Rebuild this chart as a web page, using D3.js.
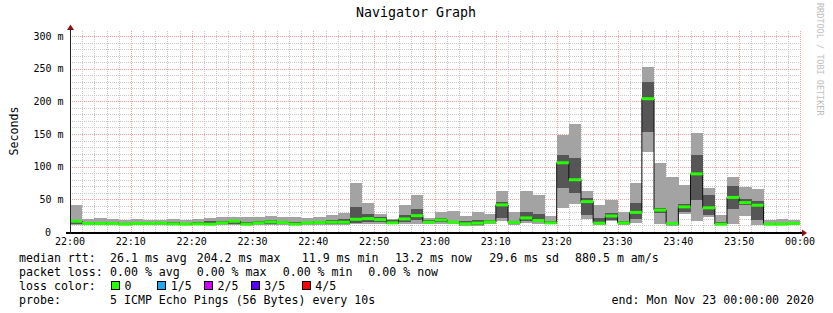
<!DOCTYPE html>
<html><head><meta charset="utf-8">
<script src="https://cdn.jsdelivr.net/npm/d3@7"></script>
<style>
html,body{margin:0;padding:0;background:#fff;}
svg{display:block;}
text{font-family:"DejaVu Sans Mono",monospace;}
</style></head><body>
<svg id="c" width="833" height="313"></svg>
<script>
// ---- data (milliseconds), one 2-minute bin each, 22:00 .. 23:58 ----
const minMs = [11,10,10.5,10.5,10,10.5,10.5,10.5,10.5,10, 10,10.5,10.5,11,10.5,10.5,11,11,10.5,10.5,
  10.5,11,10.5,12.5,12.5,13,11.5,12,12.5,12.5, 13,12,9.5,9.5,12.5,17,10.5,14,12.5,11.5,
  37,43,20.5,10,17,10,14.5,123,11.5,9.5, 28,17,23.5,10,12,24.5,10,10,10,10];
const p2Ms = [12.5,11.5,12,12,11,12,12,11.5,12,11, 11.5,11.5,12,13,11.5,12,13,12.5,11.5,12,
  12,12.5,13,14.5,16,15.5,12.5,15,19,13.5, 15,13.5,11,11,14,22,12.5,17,15,12.5,
  68,60,26.5,12,19,12,19.5,153.5,28.5,11, 30.5,49,26,11,35.5,41,18.5,11,11,11];
const medianMs = [16.5,13,13,13,12,13,13,13.5,12.5,12, 12.5,12,14,16.5,12,14,15.5,14.5,12,14,
  14.5,15,15,19.5,20.5,19,14,20,25,15, 18.5,15,12.5,13.5,15.5,41.5,14.5,21.5,17.5,14,
  106,80,46.5,13.5,24.5,14,30,204,33.5,13, 38.5,89,37,12,53,45,41,12,12,13];
const p4Ms = [19,15,15.5,15,13.5,15,14.5,15,15,14, 16,16.5,16.5,17.5,15.5,17,18.5,17,15,16,
  16.5,18,20,38.5,27.5,23,18,26,35,18, 21,17.5,16.5,18.5,18.5,46.5,17,31,28,17,
  118.5,114,52,22,29.5,17,44.5,229.5,36,16, 42.5,118,56.5,15,70.5,50.5,47.5,13.5,14,14.5];
const maxMs = [41,20,21,20,18,20,18,18.5,20,18, 20,21.5,23.5,23,23,23.5,25,23.5,23,21,
  23.5,25.5,29.5,75.5,45,27.5,20.5,41,56.5,21.5, 30.5,32,24.5,30.5,27.5,63,30.5,63,57,25,
  149,166,63,42,49,30.5,75.5,253,106,84.5, 72.5,152,68,26,84.5,69.5,66.5,18.5,20,18.5];

const xTickLabels = ["22:00","22:10","22:20","22:30","22:40","22:50","23:00","23:10","23:20","23:30","23:40","23:50","00:00"];
const yTickValues = [0,50,100,150,200,250,300];
const lossLabels = ["0","1/5","2/5","3/5","4/5"];
const lossColors = ["#26ff00","#1ea8f0","#d400ff","#5a00ff","#ff0000"];
const statLine1 = ["median rtt:","26.1 ms avg","204.2 ms max","11.9 ms min","13.2 ms now","29.6 ms sd","880.5 m am/s"];
const statLine2 = ["packet loss:","0.00 % avg","0.00 % max","0.00 % min","0.00 % now"];
const probeText = ["probe:","5 ICMP Echo Pings (56 Bytes) every 10s"];
const endText = "end: Mon Nov 23 00:00:00 2020";

// ---- layout ----
const t0 = new Date(2020,10,22,22,0), t1 = new Date(2020,10,23,0,0);
const binStarts = d3.timeMinute.every(2).range(t0, t1);
const x = d3.scaleTime().domain([t0,t1]).range([70,800]);
const y = d3.scaleLinear().domain([0,300]).range([232,36]);
const plotTop = 31;
const svg = d3.select("#c");
svg.append("rect").attr("width",833).attr("height",313).attr("fill","#fff");

const grid = svg.append("g").attr("shape-rendering","crispEdges");
// minor horizontal
grid.selectAll("line.hm").data(d3.range(10,301,10).filter(v=>v%50!==0)).join("line")
  .attr("x1",70).attr("x2",800).attr("y1",d=>Math.round(y(d))+0.5).attr("y2",d=>Math.round(y(d))+0.5)
  .attr("stroke","#c8c8c8").attr("stroke-dasharray","1,1");
// minor vertical
const minorT = d3.timeMinute.every(2).range(t0, new Date(+t1+1)).filter(d=>d.getMinutes()%10!==0);
grid.selectAll("line.vm").data(minorT).join("line")
  .attr("x1",d=>Math.round(x(d))+0.5).attr("x2",d=>Math.round(x(d))+0.5).attr("y1",plotTop).attr("y2",232)
  .attr("stroke","#c8c8c8").attr("stroke-dasharray","1,1");
// major
const majorT = d3.timeMinute.every(10).range(t0, new Date(+t1+1));
grid.selectAll("line.vM").data(majorT.slice(1)).join("line")
  .attr("x1",d=>Math.round(x(d))+0.5).attr("x2",d=>Math.round(x(d))+0.5).attr("y1",plotTop).attr("y2",232)
  .attr("stroke","#f2a0a0").attr("stroke-dasharray","1,1");
grid.selectAll("line.hM").data(yTickValues.slice(1)).join("line")
  .attr("x1",70).attr("x2",800).attr("y1",d=>Math.round(y(d))+0.5).attr("y2",d=>Math.round(y(d))+0.5)
  .attr("stroke","#f2a0a0").attr("stroke-dasharray","1,1");

// ---- smoke ----
const bw = d => x(d3.timeMinute.offset(d,2)) - x(d);
const smoke = svg.append("g").attr("shape-rendering","crispEdges");
function layer(lo, hi, color){
  smoke.selectAll(null).data(binStarts).join("rect")
    .attr("x",d=>x(d)).attr("width",d=>bw(d)+0.3)
    .attr("y",(d,i)=>y(hi[i])).attr("height",(d,i)=>Math.max(0,y(lo[i])-y(hi[i])))
    .attr("fill",color);
}
layer(minMs, p2Ms, "#a3a3a3");
layer(p4Ms, maxMs, "#a3a3a3");
layer(p2Ms, p4Ms, "#565656");

// median step line (dark) + green loss-coloured segments
const stepPts = binStarts.map((d,i)=>[x(d), y(medianMs[i])]);
stepPts.push([x(t1), y(medianMs[medianMs.length-1])]);
svg.append("path").attr("d", d3.line().curve(d3.curveStepAfter)(stepPts))
  .attr("fill","none").attr("stroke","#111").attr("stroke-width",1);
svg.append("g").selectAll("line").data(binStarts).join("line")
  .attr("x1",d=>x(d)).attr("x2",d=>x(d3.timeMinute.offset(d,2)))
  .attr("y1",(d,i)=>y(medianMs[i])).attr("y2",(d,i)=>y(medianMs[i]))
  .attr("stroke",lossColors[0]).attr("stroke-width",3);

// ---- axes ----
svg.append("line").attr("x1",66).attr("x2",803).attr("y1",233).attr("y2",233)
  .attr("stroke","#000").attr("stroke-width",2).attr("shape-rendering","crispEdges");
svg.append("line").attr("x1",70.5).attr("x2",70.5).attr("y1",234).attr("y2",29)
  .attr("stroke","#222").attr("stroke-width",1).attr("shape-rendering","crispEdges");
svg.append("path").attr("d","M802,229.5L807,233L802,236.5Z").attr("fill","#8b1010");
svg.append("path").attr("d","M67,30L70.5,24.5L74,30Z").attr("fill","#8b1010");

svg.append("g").selectAll("text").data(majorT).join("text")
  .attr("x",d=>x(d)).attr("y",245).attr("text-anchor","middle")
  .attr("font-size","10px").attr("fill","#000").text((d,i)=>xTickLabels[i]);
svg.append("g").selectAll("text").data(yTickValues).join("text")
  .attr("x",d=>d===0?51:63.5).attr("y",d=>y(d)+3.6).attr("text-anchor","end")
  .attr("font-size","10px").attr("fill","#000").text(d=>d===0?"0":d+" m");

svg.append("text").attr("transform","translate(17.5,131) rotate(-90)").attr("text-anchor","middle")
  .attr("font-size","11.6px").attr("fill","#000").text("Seconds");
svg.append("text").attr("x",416).attr("y",17).attr("text-anchor","middle")
  .attr("font-size","13.3px").attr("fill","#000").text("Navigator Graph");
svg.append("text").attr("transform","translate(817,3) rotate(90)")
  .attr("font-size","8.5px").attr("fill","#bdbdbd").text("RRDTOOL / TOBI OETIKER");

// ---- legend ----
const fs = "11.6px";
const line1X = [19,110,196.7,301.7,395,489.3,575];
svg.append("g").selectAll("text").data(statLine1).join("text")
  .attr("x",(d,i)=>line1X[i]).attr("y",261.5).attr("font-size",fs).attr("fill","#000").text(d=>d);
const line2X = [19,110,196.7,282.7,368.3];
svg.append("g").selectAll("text").data(statLine2).join("text")
  .attr("x",(d,i)=>line2X[i]).attr("y",275.8).attr("font-size",fs).attr("fill","#000").text(d=>d);
svg.append("text").attr("x",19).attr("y",290).attr("font-size",fs).attr("fill","#000").text("loss color:");
const sqX = [111,157.3,204,250.7,301.7];
const lg = svg.append("g").selectAll("g").data(lossLabels).join("g");
lg.append("rect").attr("x",(d,i)=>Math.round(sqX[i])+0.5).attr("y",281.5).attr("width",8).attr("height",8)
  .attr("fill",(d,i)=>lossColors[i]).attr("stroke","#000").attr("stroke-width",1).attr("shape-rendering","crispEdges");
lg.append("text").attr("x",(d,i)=>sqX[i]+13.5).attr("y",290).attr("font-size",fs).attr("fill","#000").text(d=>d);
svg.append("g").selectAll("text").data(probeText).join("text")
  .attr("x",(d,i)=>[19,110][i]).attr("y",304.2).attr("font-size",fs).attr("fill","#000").text(d=>d);
svg.append("text").attr("x",814).attr("y",304.2).attr("text-anchor","end").attr("font-size",fs).attr("fill","#000").text(endText);
</script>
</body></html>
